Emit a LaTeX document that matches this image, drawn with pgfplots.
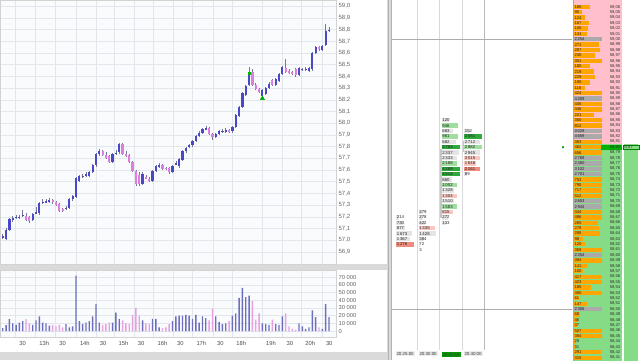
\documentclass[border=0pt]{standalone}
\usepackage{fontspec}
\setmainfont{Liberation Sans}
\usepackage{pgfplots}
\usepackage{pgfplotstable}
\pgfplotsset{compat=1.18, /pgf/number format/assume math mode=true}

\definecolor{upc}{RGB}{72,72,200}
\definecolor{dnc}{RGB}{225,125,225}
\definecolor{wickc}{RGB}{120,120,150}
\definecolor{upv}{RGB}{110,110,190}
\definecolor{dnv}{RGB}{232,160,226}
\definecolor{gridc}{RGB}{226,231,238}
\definecolor{bgc}{RGB}{250,251,253}
\definecolor{askbg}{RGB}{255,192,203}
\definecolor{bidbg}{RGB}{134,219,134}
\definecolor{domor}{RGB}{255,165,0}
\definecolor{domgr}{RGB}{170,170,170}
\definecolor{fpgray}{RGB}{228,228,228}
\definecolor{fplg}{RGB}{160,222,160}
\definecolor{fpdg}{RGB}{46,170,58}
\definecolor{fppk}{RGB}{248,200,192}
\definecolor{fprd}{RGB}{240,140,125}
\definecolor{framec}{RGB}{218,218,218}

\pgfplotstableread{
i o h l c v
0 57.03 57.05 57.01 57.03 4000
1 57.01 57.10 57.00 57.09 7800
2 57.09 57.19 57.08 57.18 15500
3 57.18 57.21 57.16 57.19 10000
4 57.19 57.22 57.18 57.20 8000
5 57.20 57.22 57.18 57.20 11000
6 57.21 57.26 57.20 57.22 13000
7 57.21 57.23 57.16 57.17 15500
8 57.20 57.21 57.15 57.16 10000
9 57.17 57.23 57.16 57.22 8000
10 57.23 57.28 57.22 57.24 14000
11 57.23 57.33 57.22 57.32 19000
12 57.32 57.35 57.31 57.33 11000
13 57.33 57.35 57.32 57.33 10000
14 57.33 57.36 57.32 57.34 7000
15 57.34 57.35 57.31 57.33 8000
16 57.33 57.34 57.29 57.30 6000
17 57.31 57.32 57.24 57.25 8000
18 57.27 57.28 57.24 57.25 4700
19 57.27 57.29 57.26 57.28 9000
20 57.28 57.36 57.27 57.35 5000
21 57.35 57.39 57.34 57.38 6000
22 57.37 57.54 57.36 57.53 72000
23 57.51 57.56 57.50 57.55 13000
24 57.55 57.57 57.53 57.55 9000
25 57.56 57.58 57.54 57.56 11000
26 57.55 57.59 57.54 57.58 13000
27 57.58 57.65 57.57 57.64 19000
28 57.64 57.75 57.63 57.74 35000
29 57.74 57.78 57.72 57.76 11000
30 57.76 57.77 57.72 57.73 8000
31 57.73 57.75 57.69 57.70 9000
32 57.72 57.73 57.66 57.67 11000
33 57.67 57.75 57.66 57.74 11000
34 57.74 57.77 57.73 57.75 24000
35 57.75 57.83 57.74 57.82 16000
36 57.82 57.83 57.73 57.74 14000
37 57.74 57.76 57.71 57.72 10000
38 57.73 57.74 57.66 57.67 9000
39 57.67 57.68 57.58 57.59 21000
40 57.59 57.60 57.46 57.48 30000
41 57.56 57.58 57.46 57.48 20000
42 57.48 57.58 57.47 57.57 14000
43 57.54 57.56 57.52 57.53 10000
44 57.52 57.54 57.50 57.51 9000
45 57.51 57.60 57.50 57.59 16000
46 57.59 57.64 57.58 57.63 16000
47 57.63 57.66 57.62 57.64 5000
48 57.64 57.65 57.60 57.61 4000
49 57.62 57.63 57.60 57.61 5000
50 57.62 57.63 57.57 57.58 9000
51 57.58 57.64 57.57 57.63 13000
52 57.65 57.68 57.64 57.66 19000
53 57.63 57.70 57.62 57.69 20000
54 57.69 57.77 57.68 57.76 20000
55 57.76 57.80 57.75 57.79 21000
56 57.80 57.82 57.79 57.81 20000
57 57.81 57.86 57.80 57.85 16000
58 57.85 57.90 57.84 57.89 21000
59 57.89 57.93 57.88 57.92 11000
60 57.92 57.96 57.91 57.95 19000
61 57.95 57.98 57.94 57.96 17000
62 57.96 57.97 57.90 57.91 14000
63 57.91 57.92 57.86 57.88 29000
64 57.88 57.92 57.87 57.91 19000
65 57.91 57.94 57.90 57.93 12000
66 57.93 57.95 57.92 57.93 9000
67 57.93 57.96 57.92 57.94 10000
68 57.94 57.95 57.92 57.93 13000
69 57.93 57.98 57.92 57.97 20000
70 57.97 58.08 57.96 58.07 23000
71 58.06 58.15 58.05 58.14 43000
72 58.14 58.27 58.13 58.26 56000
73 58.24 58.33 58.23 58.32 44000
74 58.33 58.48 58.32 58.44 46000
75 58.44 58.46 58.32 58.33 39000
76 58.33 58.34 58.28 58.29 15000
77 58.29 58.30 58.26 58.27 23000
78 58.23 58.29 58.22 58.28 10000
79 58.25 58.31 58.24 58.30 9000
80 58.30 58.35 58.29 58.34 8000
81 58.37 58.38 58.32 58.33 15000
82 58.33 58.39 58.32 58.38 9000
83 58.36 58.43 58.35 58.42 8000
84 58.42 58.49 58.41 58.48 19000
85 58.47 58.55 58.43 58.44 23000
86 58.45 58.46 58.42 58.43 6000
87 58.44 58.45 58.41 58.42 3000
88 58.46 58.47 58.40 58.41 1500
89 58.41 58.48 58.40 58.47 10000
90 58.46 58.47 58.45 58.46 6000
91 58.46 58.48 58.45 58.46 3000
92 58.45 58.48 58.44 58.47 5000
93 58.46 58.61 58.45 58.60 27000
94 58.60 58.66 58.59 58.65 18000
95 58.65 58.66 58.62 58.63 5000
96 58.63 58.67 58.62 58.66 3000
97 58.67 58.85 58.66 58.79 35000
98 58.79 58.82 58.78 58.80 18000
}\candles

\pgfplotstableread{
x p v k w
396 58.67 214 0 3
396 58.66 730 0 8
396 58.65 877 0 9
396 58.64 1673 0 16
396 58.63 1367 0 14
396 58.62 1276 4 18
418.5 58.68 279 0 4
418.5 58.67 278 0 4
418.5 58.66 422 0 6
418.5 58.65 1335 3 16
418.5 58.64 1428 0 17
418.5 58.63 384 0 5
418.5 58.62 72 0 1
418.5 58.61 3 0 0
441.5 58.85 120 0 7
441.5 58.84 946 1 16
441.5 58.83 683 0 11
441.5 58.82 961 1 16
441.5 58.81 682 0 14
441.5 58.80 2783 2 18
441.5 58.79 2337 0 17
441.5 58.78 2333 0 15
441.5 58.77 2188 1 15
441.5 58.76 4289 2 18
441.5 58.75 4818 2 18
441.5 58.74 860 0 10
441.5 58.73 1002 1 15
441.5 58.72 1328 0 12
441.5 58.71 1304 3 15
441.5 58.70 1510 0 12
441.5 58.69 1583 1 15
441.5 58.68 815 3 11
441.5 58.67 272 0 6
441.5 58.66 133 0 4
464 58.83 152 0 6
464 58.82 2681 2 18
464 58.81 2712 0 16
464 58.80 2982 1 18
464 58.79 2945 0 16
464 58.78 3015 3 16
464 58.77 1648 3 12
464 58.76 2161 4 16
464 58.75 89 0 3
}\fp

\pgfplotstableread{
p v
59.06 180
59.05 90
59.04 124
59.03 167
59.02 150
59.01 141
59.00 2254
58.99 271
58.98 287
58.97 230
58.96 301
58.95 180
58.94 219
58.93 229
58.92 180
58.91 118
58.90 424
58.89 4209
58.88 445
58.87 346
58.86 221
58.85 350
58.84 812
58.83 3028
58.82 4659
58.81 383
58.80 462
58.79 656
58.78 2769
58.77 2460
58.76 3102
58.75 2701
58.74 753
58.73 790
58.72 717
58.71 512
58.70 2653
58.69 2944
58.68 344
58.67 486
58.66 265
58.65 278
58.64 288
58.63 98
58.62 120
58.61 369
58.60 2254
58.59 384
58.58 141
58.57 100
58.56 417
58.55 423
58.54 185
58.53 380
58.52 61
58.51 147
58.50 2306
58.49 68
58.48 46
58.47 37
58.46 507
58.45 384
58.44 28
58.43 31
58.42 291
58.41 315
}\dom

\begin{document}
\begin{tikzpicture}
\fill[white] (0pt,0pt) rectangle (640pt,360pt);
\fill[framec] (0pt,90pt) rectangle (388pt,96pt);
\fill[framec] (0pt,0pt) rectangle (388pt,8pt);
\fill[framec] (387pt,0pt) rectangle (392pt,360pt);
\draw[gray!60, line width=0.4pt] (388pt,0pt) -- (388pt,360pt) (391.5pt,0pt) -- (391.5pt,360pt);

% ---------- price (candles) ----------
\begin{axis}[
  at={(0pt,96pt)}, anchor=south west, width=336pt, height=264pt, scale only axis,
  xmin=-0.75, xmax=100.15, ymin=56.795, ymax=59.051,
  axis background/.style={fill=bgc},
  axis line style={draw=gray!35},
  xtick={3.8,9.8,15.8,22,28,33.6,39.4,45.3,51.2,57,63.2,69,77.9,84.1,89.7,95.9},
  xticklabels={},
  ytick={56.9,57,57.1,57.2,57.3,57.4,57.5,57.6,57.7,57.8,57.9,58,58.1,58.2,58.3,58.4,58.5,58.6,58.7,58.8,58.9,59},
  yticklabel pos=right,
  major tick length=0pt,
  grid=major, major grid style={draw=gridc, line width=0.5pt},
  yticklabel style={font=\fontsize{6}{7}\selectfont, text=black!60, anchor=west, xshift=-1pt},
  y tick label style={/pgf/number format/fixed, /pgf/number format/fixed zerofill, /pgf/number format/precision=1, /pgf/number format/use comma},
]
\addplot[draw=none, mark=none, error bars/.cd, y dir=both, y explicit, error mark=none,
  error bar style={draw=wickc, line width=0.6pt}]
  table[x=i, y expr={(\thisrow{h}+\thisrow{l})/2}, y error expr={(\thisrow{h}-\thisrow{l})/2}] {\candles};
\addplot[draw=none, mark=none, error bars/.cd, y dir=both, y explicit, error mark=none,
  error bar style={draw=upc, line width=2.2pt}]
  table[x=i, y expr={(\thisrow{o}+\thisrow{c})/2},
        y error expr={\thisrow{c}<\thisrow{o} ? 0 : max(abs(\thisrow{c}-\thisrow{o})/2,0.003)}] {\candles};
\addplot[draw=none, mark=none, error bars/.cd, y dir=both, y explicit, error mark=none,
  error bar style={draw=dnc, line width=2.2pt}]
  table[x=i, y expr={(\thisrow{o}+\thisrow{c})/2},
        y error expr={\thisrow{c}<\thisrow{o} ? max(abs(\thisrow{c}-\thisrow{o})/2,0.003) : 0}] {\candles};
\addplot[only marks, mark=triangle*, mark size=2.4pt, color=green!65!black] coordinates {(78,58.212)};
\addplot[only marks, mark=square*, mark size=1.1pt, color=green!70!black] coordinates {(74,58.43)};
\end{axis}

% ---------- volume ----------
\begin{axis}[
  at={(0pt,23pt)}, anchor=south west, width=336pt, height=67pt, scale only axis,
  xmin=-0.75, xmax=100.15, ymin=-7776, ymax=79056,
  axis background/.style={fill=bgc},
  axis line style={draw=gray!35},
  xtick={3.8,9.8,15.8,22,28,33.6,39.4,45.3,51.2,57,63.2,69,77.9,84.1,89.7,95.9},
  xticklabels={30,13h,30,14h,30,15h,30,16h,30,17h,30,18h,19h,30,20h,30},
  xticklabel style={font=\fontsize{5.8}{6}\selectfont, text=black!70, anchor=north west, xshift=0.5pt, yshift=-0.5pt},
  ytick={0,10000,20000,30000,40000,50000,60000,70000},
  scaled y ticks=false,
  yticklabel pos=right,
  yticklabel style={font=\fontsize{5.8}{6}\selectfont, text=black!60, anchor=west, xshift=-1pt},
  y tick label style={/pgf/number format/fixed, /pgf/number format/1000 sep={\ }},
  major tick length=0pt,
  grid=major, major grid style={draw=gridc, line width=0.5pt},
]
\addplot[ybar, bar width=1.4pt, bar shift=0pt, fill=upv, draw=none]
  table[x=i, y expr={\thisrow{c}<\thisrow{o} ? 0 : \thisrow{v}}] {\candles};
\addplot[ybar, bar width=1.4pt, bar shift=0pt, fill=dnv, draw=none]
  table[x=i, y expr={\thisrow{c}<\thisrow{o} ? \thisrow{v} : 0}] {\candles};
\end{axis}

% ---------- footprint ----------
\begin{axis}[
  at={(392pt,10pt)}, anchor=south west, width=180pt, height=350pt, scale only axis,
  xmin=392, xmax=572, ymin=58.4241, ymax=59.0722,
  axis line style={draw=none}, ytick=\empty, major tick length=0pt,
  xtick={405,428,473}, xticklabels={20:25:00,20:30:00,20:40:00},
  xticklabel style={font=\fontsize{4.4}{5}\selectfont, text=black!80, fill=black!7, inner sep=1pt, yshift=-1pt},
  extra x ticks={451}, extra x tick labels={20:35:00},
  extra x tick style={xticklabel style={fill=green!60!black, text=black!75, font=\fontsize{4.4}{5}\selectfont, inner sep=1pt, yshift=-1pt}},
]
\addplot[gray!30, line width=0.5pt] coordinates {(417,58.4241) (417,59.0722)};
\addplot[gray!30, line width=0.5pt] coordinates {(439.5,58.4241) (439.5,59.0722)};
\addplot[gray!30, line width=0.5pt] coordinates {(462.5,58.4241) (462.5,59.0722)};
\addplot[gray!55, line width=0.5pt] coordinates {(484,58.4241) (484,59.0722)};
\addplot[gray!65, line width=0.6pt] coordinates {(392,59.00) (572,59.00)};
\addplot[gray!65, line width=0.6pt] coordinates {(392,58.50) (572,58.50)};
\addplot[gray!45, line width=1.6pt] coordinates {(440.8,58.797) (440.8,58.668)};
\addplot[gray!45, line width=1.6pt] coordinates {(463.3,58.812) (463.3,58.792)};
\addplot[draw=none, mark=none, error bars/.cd, x dir=plus, x explicit, error mark=none,
  error bar style={draw=fpgray, line width=4.5pt}]
  table[x=x, y=p, x error expr={\thisrow{k}==0 ? \thisrow{w} : 0}] {\fp};
\addplot[draw=none, mark=none, error bars/.cd, x dir=plus, x explicit, error mark=none,
  error bar style={draw=fplg, line width=4.5pt}]
  table[x=x, y=p, x error expr={\thisrow{k}==1 ? \thisrow{w} : 0}] {\fp};
\addplot[draw=none, mark=none, error bars/.cd, x dir=plus, x explicit, error mark=none,
  error bar style={draw=fpdg, line width=4.5pt}]
  table[x=x, y=p, x error expr={\thisrow{k}==2 ? \thisrow{w} : 0}] {\fp};
\addplot[draw=none, mark=none, error bars/.cd, x dir=plus, x explicit, error mark=none,
  error bar style={draw=fppk, line width=4.5pt}]
  table[x=x, y=p, x error expr={\thisrow{k}==3 ? \thisrow{w} : 0}] {\fp};
\addplot[draw=none, mark=none, error bars/.cd, x dir=plus, x explicit, error mark=none,
  error bar style={draw=fprd, line width=4.5pt}]
  table[x=x, y=p, x error expr={\thisrow{k}==4 ? \thisrow{w} : 0}] {\fp};
\addplot[draw=none, mark=none, point meta=\thisrow{v},
  nodes near coords={\pgfmathprintnumber[fixed,precision=0,1000 sep={\,}]{\pgfplotspointmeta}},
  every node near coord/.style={anchor=west, inner sep=0pt, text=black!85, font=\fontsize{4.3}{4.3}\selectfont}]
  table[x expr={\thisrow{x}+0.6}, y=p] {\fp};
\addplot[only marks, mark=*, mark size=0.9pt, color=green!60!black] coordinates {(563,58.80)};
\end{axis}

% ---------- DOM ladder ----------
\begin{axis}[
  at={(572pt,0pt)}, anchor=south west, width=68pt, height=360pt, scale only axis,
  xmin=572, xmax=640, ymin=58.40556, ymax=59.07222,
  axis line style={draw=none}, xtick=\empty, ytick=\empty,
]
\addplot[fill=askbg, draw=none] coordinates {(573,58.805) (622,58.805) (622,59.08) (573,59.08)};
\addplot[fill=bidbg, draw=none] coordinates {(573,58.40) (622,58.40) (622,58.805) (573,58.805)};
\addplot[fill=bidbg, draw=none] coordinates {(624,58.40) (638,58.40) (638,58.805) (624,58.805)};
\addplot[gray!70, line width=0.5pt] coordinates {(573.3,58.40) (573.3,59.08)};
\addplot[draw=none, mark=none, error bars/.cd, x dir=plus, x explicit, error mark=none,
  error bar style={draw=domor, line width=4.3pt}]
  table[x expr=573.5, y=p, x error expr={\thisrow{v}<1000 ? min(\thisrow{v},300)/300*28 : 0}] {\dom};
\addplot[draw=none, mark=none, error bars/.cd, x dir=plus, x explicit, error mark=none,
  error bar style={draw=domgr, line width=4.3pt}]
  table[x expr=573.5, y=p, x error expr={\thisrow{v}<1000 ? 0 : 28}] {\dom};
\addplot[fill=green!70!black, draw=none] coordinates {(601,58.7955) (621.5,58.7955) (621.5,58.8045) (601,58.8045)};
\addplot[fill=bidbg, draw=green!50!black, line width=0.4pt] coordinates {(623.5,58.7955) (639.5,58.7955) (639.5,58.8045) (623.5,58.8045) (623.5,58.7955)};
\addplot[draw=none, mark=none, point meta=\thisrow{v},
  nodes near coords={\pgfmathprintnumber[fixed,precision=0,1000 sep={\,}]{\pgfplotspointmeta}},
  every node near coord/.style={anchor=west, inner sep=0pt, text=black!85, font=\fontsize{4.2}{4.2}\selectfont}]
  table[x expr=574.3, y=p] {\dom};
\addplot[draw=none, mark=none, point meta=\thisrow{p},
  nodes near coords={\pgfmathprintnumber[fixed,fixed zerofill,precision=2,use comma]{\pgfplotspointmeta}},
  every node near coord/.style={anchor=east, inner sep=0pt, text=black!80, font=\fontsize{4.2}{4.2}\selectfont}]
  table[x expr=620.5, y=p] {\dom};
\addplot[draw=none, mark=none, point meta=explicit symbolic,
  nodes near coords={\pgfplotspointmeta},
  every node near coord/.style={anchor=west, inner sep=0pt, text=black!85, font=\fontsize{4.2}{4.2}\selectfont}]
  coordinates {(624.5,58.80) [{0,57}]};
\end{axis}
\end{tikzpicture}
\end{document}
